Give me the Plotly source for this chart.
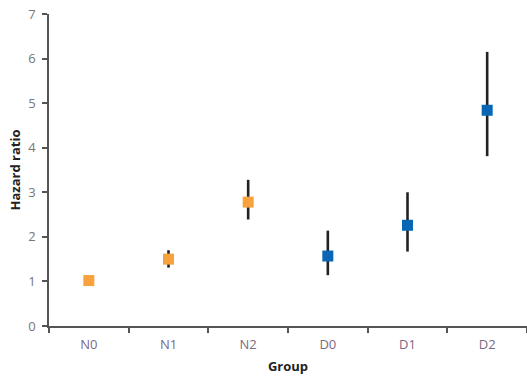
import plotly.graph_objects as go

groups = ["N0", "N1", "N2", "D0", "D1", "D2"]
hr = [1.02, 1.50, 2.78, 1.57, 2.26, 4.84]
upper = [1.02, 1.70, 3.28, 2.14, 3.00, 6.15]
lower = [1.02, 1.31, 2.39, 1.14, 1.67, 3.81]
colors = ["#F7A23C", "#F7A23C", "#F7A23C", "#0866B4", "#0866B4", "#0866B4"]
y_ticks = [0, 1, 2, 3, 4, 5, 6, 7]

plus = [u - v for u, v in zip(upper, hr)]
minus = [v - l for v, l in zip(hr, lower)]

fig = go.Figure()
fig.add_trace(go.Scatter(
    x=groups, y=hr, mode="markers",
    marker=dict(symbol="square", size=11, color=colors, line=dict(width=0)),
    error_y=dict(type="data", symmetric=False, array=plus, arrayminus=minus,
                 width=0, thickness=2.6, color="#222222"),
    showlegend=False,
))

fig.update_layout(
    width=527, height=376,
    margin=dict(l=49, r=0, t=14, b=50),
    paper_bgcolor="white", plot_bgcolor="white",
    font=dict(family="Open Sans, DejaVu Sans, sans-serif"),
    xaxis=dict(
        type="category", range=[-0.5, 5.5], tickson="boundaries",
        ticks="outside", ticklen=5, tickwidth=1.5, tickcolor="#555555",
        showline=True, linecolor="#555555", linewidth=1.5,
        showgrid=False, zeroline=False, ticklabelstandoff=6,
        tickfont=dict(size=13, color="#7a6a82"),
        title=dict(text="<b>Group</b>", font=dict(size=13, color="#222222"), standoff=10),
    ),
    yaxis=dict(
        range=[0, 7], tickvals=y_ticks,
        ticks="outside", ticklen=5, tickwidth=1.5, tickcolor="#555555",
        showline=True, linecolor="#555555", linewidth=1.5,
        showgrid=False, zeroline=False, ticklabelstandoff=4,
        tickfont=dict(size=13, color="#777777"),
        title=dict(text="<b>Hazard ratio</b>", font=dict(size=13, color="#222222"), standoff=5),
    ),
)

fig.write_html("out.html")
